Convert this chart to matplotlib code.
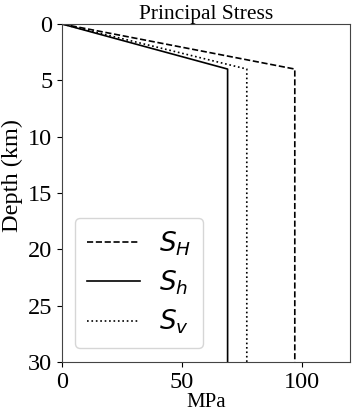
import matplotlib
matplotlib.use("Agg")
import matplotlib.pyplot as plt

DEPTH_KM = [0, 4, 30]
SH_MPA = [0, 97, 97]
SHMIN_MPA = [0, 69, 69]
SV_MPA = [0, 77, 77]

plt.rcParams.update({
    "font.family": "serif",
    "font.serif": ["Liberation Serif", "DejaVu Serif"],
    "mathtext.fontset": "dejavusans",
})

fig = plt.figure(figsize=(3.53, 4.15), dpi=100)
ax = fig.add_axes([62 / 353, 1 - 362 / 415, 288 / 353, 338 / 415])

ax.plot(SH_MPA, DEPTH_KM, "k--", lw=1.2, label="$S_H$")
ax.plot(SHMIN_MPA, DEPTH_KM, "k-", lw=1.2, label="$S_h$")
ax.plot(SV_MPA, DEPTH_KM, "k:", lw=1.2, label="$S_v$")

ax.set_xlim(0, 120)
ax.set_ylim(30, 0)
ax.set_xticks([0, 50, 100])
ax.set_yticks([0, 5, 10, 15, 20, 25, 30])
ax.tick_params(labelsize=17.5)
ax.set_xlabel("MPa", fontsize=15, labelpad=0)
ax.set_ylabel("Depth (km)", fontsize=17.5)
ax.yaxis.set_label_coords(-0.135, 0.553)
ax.set_title("Principal Stress", fontsize=15.5, pad=2)
for s in ax.spines.values():
    s.set_color("#444444")

ax.legend(loc="lower left", fontsize=19, handlelength=2.0, handletextpad=0.75,
          borderpad=0.45, labelspacing=0.4, borderaxespad=0,
          bbox_to_anchor=(0.045, 0.041))

fig.savefig("out.png", dpi=100)
